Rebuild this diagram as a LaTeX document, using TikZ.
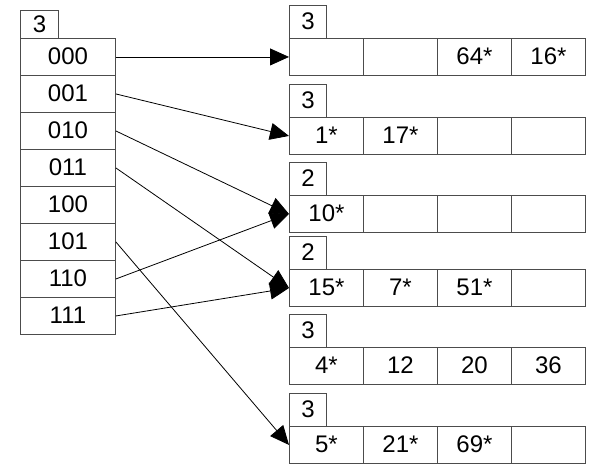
\documentclass[tikz,border=0pt]{standalone}
\usepackage{fontspec}
\setmainfont{Liberation Sans}
\usetikzlibrary{arrows.meta}
\begin{document}
\begin{tikzpicture}[x=1pt,y=-1pt,
  cell/.style={draw=black!70, line width=0.9pt, anchor=north west, inner sep=0pt,
    minimum width=74pt, minimum height=37pt, text height=16pt, text depth=0pt,
    font=\fontsize{24}{28}\selectfont},
  dircell/.style={cell, minimum width=95pt},
  dirdepth/.style={cell, minimum width=38pt, minimum height=28pt},
  bktdepth/.style={cell, minimum width=37pt, minimum height=33pt},
  ptr/.style={-{Triangle[length=19pt,width=17pt]}, line width=0.8pt}
]
\useasboundingbox (0,0) rectangle (596,472);

% directory: global depth and the eight pointer slots
\node[dirdepth] (gd) at (20,10) {3};
\foreach \i/\lab in {0/000,1/001,2/010,3/011,4/100,5/101,6/110,7/111}
  \node[dircell] (d\i) at (20,38+37*\i) {\lab};

% buckets: local depth box above a row of four entries
\foreach \k/\t/\d/\a/\b/\c/\e in {
    1/38/3/{}/{}/{64*}/{16*},
    2/117/3/{1*}/{17*}/{}/{},
    3/195/2/{10*}/{}/{}/{},
    4/269/2/{15*}/{7*}/{51*}/{},
    5/347/3/{4*}/{12}/{20}/{36},
    6/426/3/{5*}/{21*}/{69*}/{}} {
  \node[bktdepth] (ld\k) at (289,\t-33) {\d};
  \node[cell] (b\k-1) at (289,\t) {\a};
  \node[cell] (b\k-2) at (363,\t) {\b};
  \node[cell] (b\k-3) at (437,\t) {\c};
  \node[cell] (b\k-4) at (511,\t) {\e};
}

% directory pointers
\draw[ptr] (d0.east) -- (b1-1.west);
\draw[ptr] (d1.east) -- (b2-1.west);
\draw[ptr] (d2.east) -- (b3-1.west);
\draw[ptr] (d3.east) -- (b4-1.west);
\draw[ptr] (d5.east) -- (b6-1.west);
\draw[ptr] (d6.east) -- (b3-1.west);
\draw[ptr] (d7.east) -- (b4-1.west);
\end{tikzpicture}
\end{document}
